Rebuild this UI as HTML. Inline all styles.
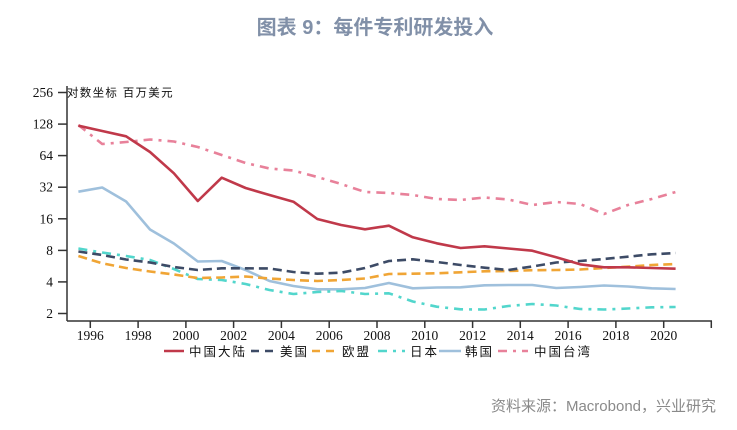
<!DOCTYPE html>
<html><head><meta charset="utf-8"><style>
html,body{margin:0;padding:0;background:#fff;}
svg{display:block;}
.cjk{font-family:"Liberation Sans","Noto Sans CJK SC",sans-serif;}
.num{font-family:"Liberation Serif",serif;font-size:13.5px;fill:#111;}
</style></head><body>
<svg width="737" height="430" viewBox="0 0 737 430" xmlns="http://www.w3.org/2000/svg">
<text x="375" y="34" text-anchor="middle" class="cjk" font-size="20" font-weight="bold" fill="#8190a8">图表 9：每件专利研发投入</text>
<text x="716" y="411" text-anchor="end" class="cjk" font-size="15" fill="#8a8a8a">资料来源：Macrobond，兴业研究</text>

<!-- axes -->
<g stroke="#333" stroke-width="1.5" fill="none">
<line x1="67" y1="86" x2="67" y2="321"/>
<line x1="67" y1="321" x2="712" y2="321"/>
<line x1="58" y1="92.5" x2="67" y2="92.5"/>
<line x1="58" y1="124.1" x2="67" y2="124.1"/>
<line x1="58" y1="155.6" x2="67" y2="155.6"/>
<line x1="58" y1="187.2" x2="67" y2="187.2"/>
<line x1="58" y1="218.8" x2="67" y2="218.8"/>
<line x1="58" y1="250.4" x2="67" y2="250.4"/>
<line x1="58" y1="281.9" x2="67" y2="281.9"/>
<line x1="58" y1="313.5" x2="67" y2="313.5"/>
<line x1="90.3" y1="321" x2="90.3" y2="328"/>
<line x1="138.1" y1="321" x2="138.1" y2="328"/>
<line x1="185.9" y1="321" x2="185.9" y2="328"/>
<line x1="233.6" y1="321" x2="233.6" y2="328"/>
<line x1="281.4" y1="321" x2="281.4" y2="328"/>
<line x1="329.2" y1="321" x2="329.2" y2="328"/>
<line x1="377" y1="321" x2="377" y2="328"/>
<line x1="424.8" y1="321" x2="424.8" y2="328"/>
<line x1="472.6" y1="321" x2="472.6" y2="328"/>
<line x1="520.3" y1="321" x2="520.3" y2="328"/>
<line x1="568.1" y1="321" x2="568.1" y2="328"/>
<line x1="615.9" y1="321" x2="615.9" y2="328"/>
<line x1="663.7" y1="321" x2="663.7" y2="328"/>
<line x1="711.3" y1="321" x2="711.3" y2="328"/>
</g>
<g class="num" text-anchor="end">
<text x="53" y="97">256</text>
<text x="53" y="128.6">128</text>
<text x="53" y="160.1">64</text>
<text x="53" y="191.7">32</text>
<text x="53" y="223.3">16</text>
<text x="53" y="254.9">8</text>
<text x="53" y="286.4">4</text>
<text x="53" y="318">2</text>
</g>
<g class="num" text-anchor="middle">
<text x="90.3" y="340">1996</text>
<text x="138.1" y="340">1998</text>
<text x="185.9" y="340">2000</text>
<text x="233.6" y="340">2002</text>
<text x="281.4" y="340">2004</text>
<text x="329.2" y="340">2006</text>
<text x="377" y="340">2008</text>
<text x="424.8" y="340">2010</text>
<text x="472.6" y="340">2012</text>
<text x="520.3" y="340">2014</text>
<text x="568.1" y="340">2016</text>
<text x="615.9" y="340">2018</text>
<text x="663.7" y="340">2020</text>
</g>
<text x="67" y="96.5" class="cjk" font-size="11.5" letter-spacing="1.3" fill="#111">对数坐标 百万美元</text>

<!-- series -->
<g fill="none" stroke-width="2.6" stroke-linejoin="round">
<polyline stroke="#9fc0dc" points="78.4,191.7 102.2,187.5 126.1,201.5 150,229.5 173.9,243.5 197.8,261.5 221.7,261 245.6,270 269.5,281 293.4,286 317.3,289.3 341.2,289.3 365,288 388.9,283 412.8,288.3 436.7,287.5 460.6,287.3 484.5,285.3 508.4,285 532.3,285 556.2,288 580.1,287 604,285.5 627.9,286.5 651.7,288.3 675.6,289"/>
<polyline stroke="#52d6cc" stroke-dasharray="9,6,3,6" points="78.4,248.5 102.2,252.5 126.1,256 150,260 173.9,269 197.8,279 221.7,280 245.6,284 269.5,290 293.4,294 317.3,292 341.2,291 365,294 388.9,293.3 412.8,301.5 436.7,306.7 460.6,309.3 484.5,309.5 508.4,306 532.3,304 556.2,305.5 580.1,309 604,309.5 627.9,308.5 651.7,307.3 675.6,307"/>
<polyline stroke="#f0a535" stroke-dasharray="9,5" points="78.4,256 102.2,263.3 126.1,268 150,271.5 173.9,274.5 197.8,278 221.7,277.5 245.6,276.5 269.5,278.5 293.4,280 317.3,281 341.2,280 365,278.5 388.9,274 412.8,273.7 436.7,273.3 460.6,272.3 484.5,271.3 508.4,271 532.3,270.2 556.2,270 580.1,269.5 604,268 627.9,266.7 651.7,265 675.6,264"/>
<polyline stroke="#3d4b66" stroke-dasharray="9,5" points="78.4,251.5 102.2,255 126.1,259.5 150,262.5 173.9,267 197.8,270 221.7,268.3 245.6,268.3 269.5,268.5 293.4,272 317.3,273.7 341.2,272.7 365,268 388.9,261 412.8,259.3 436.7,262 460.6,265 484.5,267.7 508.4,270 532.3,266.5 556.2,262.5 580.1,261 604,259 627.9,256.7 651.7,254.3 675.6,253"/>
<polyline stroke="#e8819a" stroke-dasharray="9,6,3,6" points="78.4,125 102.2,144 126.1,142 150,139.5 173.9,141.5 197.8,147 221.7,155 245.6,163 269.5,168.5 293.4,170.5 317.3,177 341.2,184 365,192 388.9,193 412.8,195 436.7,199 460.6,200 484.5,197.5 508.4,199.5 532.3,205 556.2,202 580.1,204 604,214 627.9,205 651.7,199 675.6,192"/>
<polyline stroke="#c0394a" points="78.4,125.7 102.2,131 126.1,136.3 150,152 173.9,173.3 197.8,201 221.7,177.7 245.6,188 269.5,195 293.4,201.7 317.3,219 341.2,225 365,229.3 388.9,225.7 412.8,237.3 436.7,243.3 460.6,248 484.5,246.3 508.4,248.5 532.3,250.7 556.2,257.3 580.1,264.3 604,267.3 627.9,267.3 651.7,268 675.6,268.7"/>
</g>

<!-- legend -->
<g stroke-width="2.6" fill="none">
<line x1="164" y1="351" x2="184" y2="351" stroke="#c0394a"/>
<line x1="251" y1="351" x2="276" y2="351" stroke="#3d4b66" stroke-dasharray="8,6"/>
<line x1="312" y1="351" x2="338" y2="351" stroke="#f0a535" stroke-dasharray="8,6"/>
<line x1="378" y1="351" x2="405" y2="351" stroke="#52d6cc" stroke-dasharray="9,6,3,6"/>
<line x1="439" y1="351" x2="461" y2="351" stroke="#9fc0dc"/>
<line x1="498" y1="351" x2="528" y2="351" stroke="#e8819a" stroke-dasharray="9,6,3,6"/>
</g>
<g class="cjk" font-size="12.5" letter-spacing="2" fill="#111">
<text x="189" y="356">中国大陆</text>
<text x="280" y="356">美国</text>
<text x="342" y="356">欧盟</text>
<text x="410" y="356">日本</text>
<text x="465" y="356">韩国</text>
<text x="534" y="356">中国台湾</text>
</g>
</svg>
</body></html>
